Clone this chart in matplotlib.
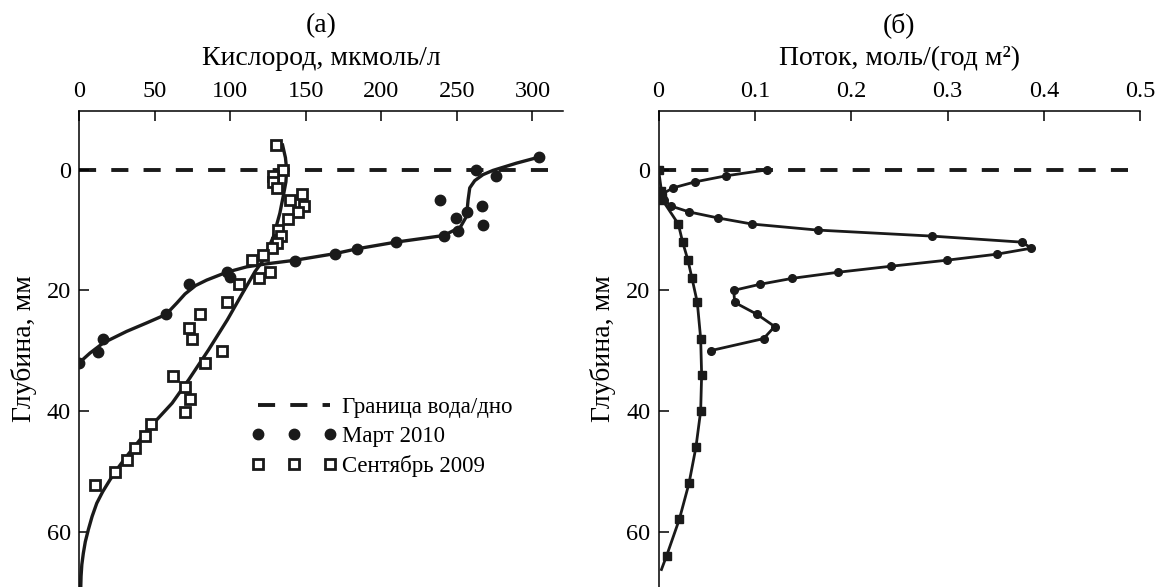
import matplotlib
matplotlib.use("Agg")
import matplotlib.pyplot as plt

plt.rcParams["font.family"] = ["Liberation Serif", "DejaVu Serif"]

# (а) кислород: точки и аппроксимирующие кривые
mar_o2 = [304.3, 262.4, 276.1, 239.1, 266.9, 256.7, 249.2, 267.3, 251.0, 241.3, 209.5,
          184.0, 169.4, 142.9, 97.5, 99.7, 72.4, 57.4, 16.0, 12.4, 0.0]
mar_depth = [-2.1, 0.0, 1.0, 5.0, 6.0, 7.0, 8.0, 9.1, 10.1, 11.0, 12.0,
             13.1, 14.0, 15.1, 16.9, 17.7, 19.0, 24.0, 28.1, 30.2, 32.0]

sep_o2 = [130.2, 134.6, 128.0, 128.4, 130.6, 147.4, 139.4, 148.7, 144.7, 138.5, 131.7,
          133.3, 130.6, 127.5, 121.8, 114.3, 126.2, 119.2, 105.5, 97.5, 79.9, 72.8,
          74.6, 94.4, 83.4, 61.8, 70.2, 73.3, 70.2, 47.3, 43.3, 37.1, 31.4, 23.5, 10.7]
sep_depth = [-4.1, 0.0, 1.1, 2.1, 3.0, 4.0, 5.0, 6.0, 7.0, 8.1, 10.0,
             10.9, 12.1, 12.9, 14.1, 15.0, 17.0, 17.9, 19.0, 22.0, 24.0, 26.2,
             28.1, 30.1, 32.1, 34.2, 36.0, 38.0, 40.1, 42.1, 44.1, 46.2, 48.1, 50.2, 52.2]

mar_fit_o2 = [0, 7.1, 16, 31.4, 44.6, 57.4, 64.6, 70.0, 77.0, 84.3, 97.5, 110.8, 124, 142.9,
              169.4, 184, 209.5, 241.3, 252.3, 256.4, 257.4, 258.5, 261.8, 267.3, 273.9,
              289.4, 304.3]
mar_fit_depth = [32, 30.4, 28.7, 26.8, 25.4, 24.0, 22.1, 20.6, 19.2, 18.3, 17.0, 16.1, 15.6,
                 15.0, 13.9, 13.1, 12.0, 10.9, 9.5, 7.7, 5.0, 3.0, 1.8, 0.8, 0.1,
                 -1.1, -2.1]

sep_fit_o2 = [134.6, 136.5, 137.3, 136.8, 135.4, 132.8, 128.5, 121.8, 116.3, 108.0, 98.0,
              85.5, 72.5, 61.5, 47.5, 38.5, 31.4, 25.5, 20.4, 15.5, 11.6, 8.5, 6.0, 4.0,
              2.7, 1.7, 1.2, 1.0]
sep_fit_depth = [-4.1, -2, 0, 2, 3.9, 7.2, 11.1, 15, 16.9, 20.5, 24.9,
                 29.9, 34.8, 38.7, 42.5, 45.3, 47.5, 49.5, 51.4, 53.4, 55.3, 57.5, 59.7, 61.7,
                 63.6, 65.5, 67.4, 69.2]

# (б) поток
mar_flux = [0.113, 0.070, 0.038, 0.015, 0.004, 0.006, 0.0126, 0.032, 0.062, 0.097, 0.165,
            0.284, 0.377, 0.387, 0.351, 0.299, 0.241, 0.186, 0.139, 0.105, 0.078,
            0.079, 0.1025, 0.1205, 0.109, 0.054]
mar_flux_depth = [0, 1, 2, 3, 4, 5, 6, 7, 8, 9, 10,
                  11, 12, 13, 14, 15, 16, 17, 18, 19, 20,
                  22, 24, 26, 28, 30]

sep_flux = [0.0, 0.003, 0.003, 0.004, 0.004, 0.0205, 0.025, 0.0305, 0.0347, 0.0402, 0.0437,
            0.0447, 0.0437, 0.0388, 0.0316, 0.0215, 0.0084]
sep_flux_depth = [0, 3.5, 4, 4.5, 5, 9, 12, 15, 18, 22, 28,
                  34, 40, 46, 52, 58, 64]
sep_flux_tail = [0.0084, 0.003]
sep_flux_tail_depth = [64, 66.3]

o2_ticks = [0, 50, 100, 150, 200, 250, 300]
flux_ticks = [0, 0.1, 0.2, 0.3, 0.4, 0.5]
flux_labels = ["0", "0.1", "0.2", "0.3", "0.4", "0.5"]
depth_ticks = [0, 20, 40, 60]

FS = 17.5
LFS = 20
DEPTH_LIM = (69.2, -9.8)
DASH = (4.4, 3.9)


def setup_axis(ax, xlim, xticks, xlabels, xlabel, title):
    ax.set_xlim(*xlim)
    ax.set_ylim(*DEPTH_LIM)
    ax.xaxis.tick_top()
    ax.xaxis.set_label_position("top")
    ax.spines["right"].set_visible(False)
    ax.spines["bottom"].set_visible(False)
    for s in ("top", "left"):
        ax.spines[s].set_linewidth(1.1)
    ax.set_xticks(xticks)
    ax.set_xticklabels(xlabels)
    ax.set_yticks(depth_ticks)
    ax.tick_params(axis="x", direction="in", length=7, width=1.1, labelsize=FS, pad=6,
                   top=True, bottom=False)
    ax.tick_params(axis="y", direction="in", length=7, width=1.1, labelsize=FS, pad=6,
                   left=True, right=False)
    ax.set_xlabel(xlabel, fontsize=LFS, labelpad=11.5)
    ax.set_ylabel("Глубина, мм", fontsize=LFS)
    ax.yaxis.set_label_coords(-0.088, 0.5)
    ax.set_title(title, fontsize=LFS, pad=10)
    ax.axhline(0, color="#1a1a1a", lw=2.8, dashes=DASH, zorder=1)


fig = plt.figure(figsize=(11.57, 5.87), dpi=100)
ax1 = fig.add_axes([0.0685, 0.0, 0.4178, 0.8114])
ax2 = fig.add_axes([0.5692, 0.0, 0.4164, 0.8114])

setup_axis(ax1, (0, 320), o2_ticks, [str(t) for t in o2_ticks],
           "Кислород, мкмоль/л", "(а)")
setup_axis(ax2, (0, 0.5), flux_ticks, flux_labels,
           "Поток, моль/(год м²)", "(б)")

ax1.plot(mar_fit_o2, mar_fit_depth, color="#1a1a1a", lw=2.4, zorder=2)
ax1.plot(sep_fit_o2, sep_fit_depth, color="#1a1a1a", lw=2.4, zorder=2)
ax1.plot(mar_o2, mar_depth, ls="none", marker="o", ms=7.5, color="#1a1a1a", zorder=3)
ax1.plot(sep_o2, sep_depth, ls="none", marker="s", ms=6.5, mfc="white", mec="#1a1a1a",
         mew=2.0, zorder=3)

# легенда
h_line, = ax1.plot([], [], color="#1a1a1a", lw=2.8, dashes=DASH)
h_mar, = ax1.plot([], [], ls="none", marker="o", ms=7.5, color="#1a1a1a")
h_sep, = ax1.plot([], [], ls="none", marker="s", ms=6.5, mfc="white", mec="#1a1a1a", mew=2.0)
ax1.legend([h_line, h_mar, h_sep], ["Граница вода/дно", "Март 2010", "Сентябрь 2009"],
           loc="upper left", bbox_to_anchor=(0.355, 0.40), frameon=False, fontsize=16.5,
           numpoints=3, handlelength=3.76, handletextpad=0.2, labelspacing=0.35,
           borderaxespad=0, borderpad=0)

ax2.plot(mar_flux, mar_flux_depth, color="#1a1a1a", lw=2.0, marker="o", ms=5.5, zorder=3)
ax2.plot(sep_flux, sep_flux_depth, color="#1a1a1a", lw=2.0, marker="s", ms=5.5, zorder=3)
ax2.plot(sep_flux_tail, sep_flux_tail_depth, color="#1a1a1a", lw=2.0, zorder=3)

fig.savefig("out.png", dpi=100)
